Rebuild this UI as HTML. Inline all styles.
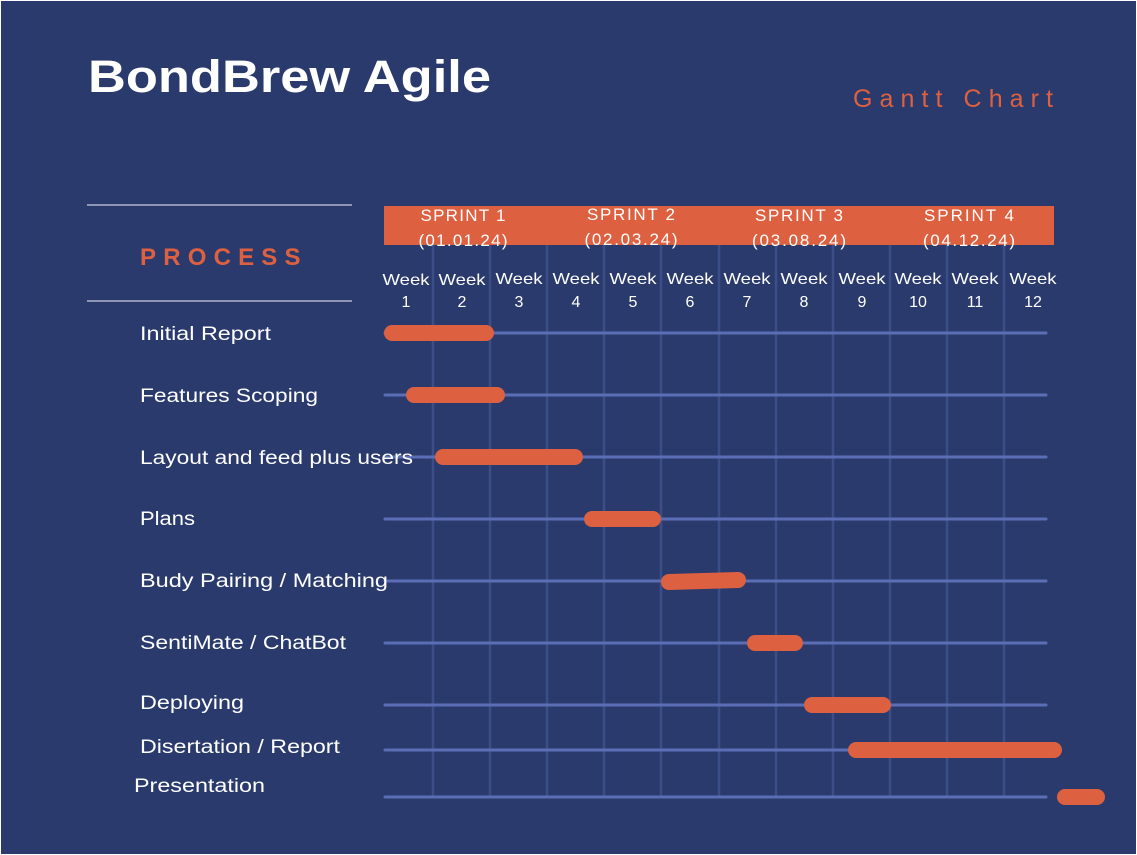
<!DOCTYPE html>
<html><head><meta charset="utf-8"><style>
html,body{margin:0;padding:0;background:#fff}
svg{display:block}
text{font-family:"Liberation Sans",sans-serif}
</style></head><body>
<svg width="1137" height="855" viewBox="0 0 1137 855" xmlns="http://www.w3.org/2000/svg">
<rect x="1" y="1" width="1135" height="853" fill="#2a3a6d"/>
<text x="88" y="92" font-size="45" font-weight="bold" fill="#fff" textLength="403" lengthAdjust="spacingAndGlyphs">BondBrew Agile</text>
<text x="853" y="107" font-size="25" fill="#dd6140" letter-spacing="4" textLength="204" lengthAdjust="spacing">Gantt Chart</text>
<line x1="87" y1="205" x2="352" y2="205" stroke="#c8cde0" stroke-width="1.2"/>
<line x1="87" y1="301" x2="352" y2="301" stroke="#c8cde0" stroke-width="1.2"/>
<text x="140" y="265" font-size="24" font-weight="bold" fill="#dd6140" letter-spacing="6.5" textLength="167" lengthAdjust="spacing">PROCESS</text>
<g stroke="#3c4e88" stroke-width="2.5">
<line x1="433" y1="245" x2="433" y2="798"/><line x1="490" y1="245" x2="490" y2="798"/>
<line x1="547" y1="245" x2="547" y2="798"/><line x1="604" y1="245" x2="604" y2="798"/>
<line x1="661" y1="245" x2="661" y2="798"/><line x1="719" y1="245" x2="719" y2="798"/>
<line x1="776" y1="245" x2="776" y2="798"/><line x1="833" y1="245" x2="833" y2="798"/>
<line x1="890" y1="245" x2="890" y2="798"/><line x1="947" y1="245" x2="947" y2="798"/>
<line x1="1004" y1="245" x2="1004" y2="798"/>
</g>
<rect x="384" y="206" width="670" height="39" fill="#dd6140"/>
<g font-size="17" fill="#fff" text-anchor="middle" lengthAdjust="spacingAndGlyphs">
<text x="463" y="221" textLength="85">SPRINT 1</text><text x="463" y="246" textLength="89">(01.01.24)</text>
<text x="631" y="220" textLength="88">SPRINT 2</text><text x="631" y="245" textLength="93">(02.03.24)</text>
<text x="799" y="221" textLength="88">SPRINT 3</text><text x="799" y="246" textLength="94">(03.08.24)</text>
<text x="969" y="221" textLength="90">SPRINT 4</text><text x="969" y="246" textLength="92">(04.12.24)</text>
</g>
<g font-size="16" fill="#fff" text-anchor="middle">
<text x="406" y="285" textLength="47" lengthAdjust="spacingAndGlyphs">Week</text><text x="406" y="307">1</text>
<text x="462" y="285" textLength="47" lengthAdjust="spacingAndGlyphs">Week</text><text x="462" y="307">2</text>
<text x="519" y="284" textLength="47" lengthAdjust="spacingAndGlyphs">Week</text><text x="519" y="307">3</text>
<text x="576" y="284" textLength="47" lengthAdjust="spacingAndGlyphs">Week</text><text x="576" y="307">4</text>
<text x="633" y="284" textLength="47" lengthAdjust="spacingAndGlyphs">Week</text><text x="633" y="307">5</text>
<text x="690" y="284" textLength="47" lengthAdjust="spacingAndGlyphs">Week</text><text x="690" y="307">6</text>
<text x="747" y="284" textLength="47" lengthAdjust="spacingAndGlyphs">Week</text><text x="747" y="307">7</text>
<text x="804" y="284" textLength="47" lengthAdjust="spacingAndGlyphs">Week</text><text x="804" y="307">8</text>
<text x="862" y="284" textLength="47" lengthAdjust="spacingAndGlyphs">Week</text><text x="862" y="307">9</text>
<text x="918" y="284" textLength="47" lengthAdjust="spacingAndGlyphs">Week</text><text x="918" y="307">10</text>
<text x="975" y="284" textLength="47" lengthAdjust="spacingAndGlyphs">Week</text><text x="975" y="307">11</text>
<text x="1033" y="284" textLength="47" lengthAdjust="spacingAndGlyphs">Week</text><text x="1033" y="307">12</text>
</g>
<g stroke="#5a6db5" stroke-width="3" stroke-linecap="round">
<line x1="385" y1="333" x2="1046" y2="333"/><line x1="385" y1="395" x2="1046" y2="395"/>
<line x1="385" y1="457" x2="1046" y2="457"/><line x1="385" y1="519" x2="1046" y2="519"/>
<line x1="385" y1="581" x2="1046" y2="581"/><line x1="385" y1="643" x2="1046" y2="643"/>
<line x1="385" y1="705" x2="1046" y2="705"/><line x1="385" y1="750" x2="1046" y2="750"/>
<line x1="385" y1="797" x2="1046" y2="797"/>
</g>
<g stroke="#dd6140" stroke-width="16" stroke-linecap="round">
<line x1="392" y1="333" x2="486" y2="333"/>
<line x1="414" y1="395" x2="497" y2="395"/>
<line x1="443" y1="457" x2="575" y2="457"/>
<line x1="592" y1="519" x2="653" y2="519"/>
<line x1="669" y1="582" x2="738" y2="580"/>
<line x1="755" y1="643" x2="795" y2="643"/>
<line x1="812" y1="705" x2="883" y2="705"/>
<line x1="856" y1="750" x2="1054" y2="750"/>
<line x1="1065" y1="797" x2="1097" y2="797"/>
</g>
<g font-size="19" fill="#fff">
<text x="140" y="340" textLength="131" lengthAdjust="spacingAndGlyphs">Initial Report</text>
<text x="140" y="402" textLength="178" lengthAdjust="spacingAndGlyphs">Features Scoping</text>
<text x="140" y="464" textLength="273" lengthAdjust="spacingAndGlyphs">Layout and feed plus users</text>
<text x="140" y="525" textLength="55" lengthAdjust="spacingAndGlyphs">Plans</text>
<text x="140" y="587" textLength="248" lengthAdjust="spacingAndGlyphs">Budy Pairing / Matching</text>
<text x="140" y="649" textLength="206" lengthAdjust="spacingAndGlyphs">SentiMate / ChatBot</text>
<text x="140" y="709" textLength="104" lengthAdjust="spacingAndGlyphs">Deploying</text>
<text x="140" y="753" textLength="200" lengthAdjust="spacingAndGlyphs">Disertation / Report</text>
<text x="134" y="792" textLength="131" lengthAdjust="spacingAndGlyphs">Presentation</text>
</g>
</svg>
</body></html>
